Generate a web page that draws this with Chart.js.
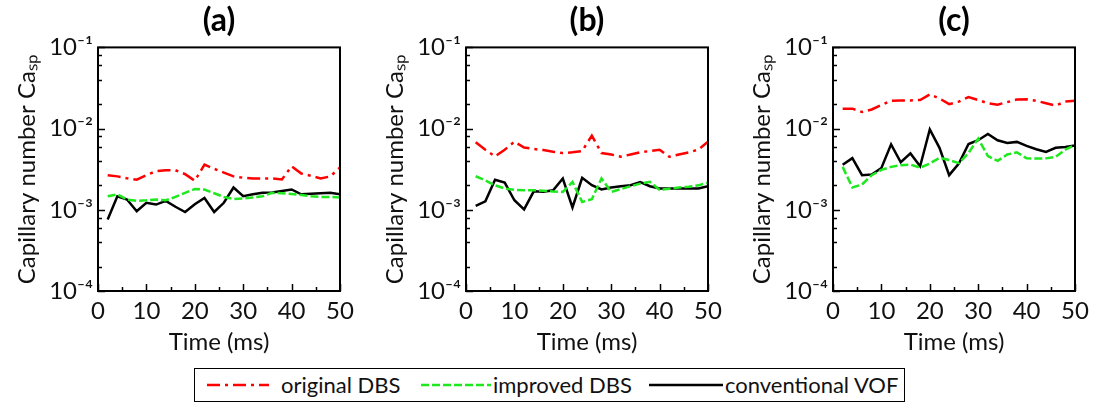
<!DOCTYPE html>
<html>
<head>
<meta charset="utf-8">
<script src="https://cdn.jsdelivr.net/npm/chart.js@4.4.1/dist/chart.umd.min.js"></script>
<style>
  body { margin: 0; width: 1095px; height: 407px; background: #fff; position: relative; overflow: hidden; font-family: Lato, "DejaVu Sans", sans-serif; }
  canvas.panel { position: absolute; top: 0; }
  #legend { position: absolute; left: 194px; top: 368px; width: 711px; height: 34px; border: 1.5px solid #000; box-sizing: border-box; font-size: 22px; color: #111; }
  #legend svg, #legend span { position: absolute; }
  #legend svg { top: 11px; }
  #legend span { top: 2px; white-space: nowrap; }
</style>
</head>
<body>
<canvas id="chartA" class="panel" width="360" height="362" style="left:0px"></canvas>
<canvas id="chartB" class="panel" width="360" height="362" style="left:368px"></canvas>
<canvas id="chartC" class="panel" width="360" height="362" style="left:735px"></canvas>

<div id="legend">
  <svg style="left:12px" width="62" height="10"><line x1="0" y1="5" x2="62" y2="5" stroke="#ff0000" stroke-width="2.5" stroke-dasharray="13 5 3 5"/></svg>
  <span style="left:86px">original DBS</span>
  <svg style="left:226px" width="70" height="10"><line x1="0" y1="5" x2="70" y2="5" stroke="#1ee81e" stroke-width="2.5" stroke-dasharray="8 3"/></svg>
  <span style="left:298px">improved DBS</span>
  <svg style="left:454px" width="74" height="10"><line x1="0" y1="5" x2="74" y2="5" stroke="#000" stroke-width="2.5"/></svg>
  <span style="left:530px">conventional VOF</span>
</div>

<script>
// time (ms)
const time = [2, 4, 6, 8, 10, 12, 14, 16, 18, 20, 22, 24, 26, 28, 30, 32, 34, 36, 38, 40, 42, 44, 46, 48, 50];

// (a)
const origA = [2.67e-3, 2.58e-3, 2.45e-3, 2.35e-3, 2.67e-3, 2.99e-3, 3.07e-3, 3.07e-3, 2.75e-3, 2.28e-3, 3.6e-3, 3.2e-3, 2.87e-3, 2.58e-3, 2.48e-3, 2.43e-3, 2.43e-3, 2.43e-3, 2.36e-3, 3.44e-3, 2.8e-3, 2.62e-3, 2.43e-3, 2.58e-3, 3.32e-3];
const impA = [1.47e-3, 1.55e-3, 1.34e-3, 1.29e-3, 1.31e-3, 1.34e-3, 1.31e-3, 1.44e-3, 1.62e-3, 1.8e-3, 1.78e-3, 1.6e-3, 1.44e-3, 1.36e-3, 1.38e-3, 1.42e-3, 1.47e-3, 1.62e-3, 1.6e-3, 1.57e-3, 1.52e-3, 1.47e-3, 1.44e-3, 1.44e-3, 1.42e-3];
const vofA = [7.6e-4, 1.47e-3, 1.34e-3, 9.6e-4, 1.22e-3, 1.16e-3, 1.29e-3, 1.09e-3, 9.4e-4, 1.17e-3, 1.4e-3, 9.4e-4, 1.22e-3, 1.88e-3, 1.47e-3, 1.55e-3, 1.62e-3, 1.63e-3, 1.7e-3, 1.78e-3, 1.55e-3, 1.58e-3, 1.6e-3, 1.62e-3, 1.55e-3];

// (b)
const origB = [6.8e-3, 5.5e-3, 4.55e-3, 5.5e-3, 6.9e-3, 5.85e-3, 5.6e-3, 5.45e-3, 5.2e-3, 5.0e-3, 5.1e-3, 5.3e-3, 8.2e-3, 5.0e-3, 4.8e-3, 4.5e-3, 4.8e-3, 5.1e-3, 5.3e-3, 5.5e-3, 4.5e-3, 4.8e-3, 5.1e-3, 5.5e-3, 6.9e-3];
const impB = [2.59e-3, 2.3e-3, 2.0e-3, 1.83e-3, 1.76e-3, 1.74e-3, 1.74e-3, 1.72e-3, 1.68e-3, 1.66e-3, 2.2e-3, 1.25e-3, 1.35e-3, 2.43e-3, 1.66e-3, 1.8e-3, 1.95e-3, 2.1e-3, 2.21e-3, 1.76e-3, 1.82e-3, 1.88e-3, 1.92e-3, 2.0e-3, 2.15e-3];
const vofB = [1.12e-3, 1.27e-3, 2.34e-3, 2.16e-3, 1.31e-3, 1.01e-3, 1.69e-3, 1.67e-3, 1.74e-3, 2.43e-3, 1.07e-3, 2.48e-3, 2.01e-3, 1.78e-3, 1.88e-3, 1.95e-3, 2.01e-3, 2.2e-3, 1.95e-3, 1.83e-3, 1.83e-3, 1.83e-3, 1.83e-3, 1.83e-3, 1.95e-3];

// (c)
const origC = [1.76e-2, 1.76e-2, 1.6e-2, 1.72e-2, 1.95e-2, 2.2e-2, 2.22e-2, 2.22e-2, 2.25e-2, 2.64e-2, 2.35e-2, 2.0e-2, 2.15e-2, 2.45e-2, 2.25e-2, 2.05e-2, 1.97e-2, 2.12e-2, 2.28e-2, 2.3e-2, 2.2e-2, 2.05e-2, 1.92e-2, 2.15e-2, 2.2e-2];
const impC = [3.38e-3, 1.88e-3, 2.05e-3, 2.67e-3, 3.1e-3, 3.38e-3, 3.54e-3, 3.6e-3, 3.3e-3, 3.72e-3, 4.36e-3, 4.1e-3, 3.75e-3, 5.0e-3, 7.54e-3, 4.6e-3, 4.0e-3, 4.8e-3, 5.1e-3, 4.3e-3, 4.28e-3, 4.3e-3, 4.5e-3, 5.5e-3, 6.3e-3];
const vofC = [3.58e-3, 4.33e-3, 2.67e-3, 2.72e-3, 3.28e-3, 6.4e-3, 3.85e-3, 4.95e-3, 3.44e-3, 9.75e-3, 5.8e-3, 2.67e-3, 3.7e-3, 6.45e-3, 7.2e-3, 8.6e-3, 7.18e-3, 6.65e-3, 6.86e-3, 6.12e-3, 5.57e-3, 5.16e-3, 5.8e-3, 5.95e-3, 6.2e-3];

// axis ticks
const yTicks = [1e-4, 2e-4, 4e-4, 6e-4, 8e-4, 1e-3, 2e-3, 4e-3, 6e-3, 8e-3, 1e-2, 2e-2, 4e-2, 6e-2, 8e-2, 1e-1];
const yDecadeLabels = { '-4': '10⁻⁴', '-3': '10⁻³', '-2': '10⁻²', '-1': '10⁻¹' };

const FONT = 'Lato';
const isDecade = v => Math.abs(Math.log10(v) - Math.round(Math.log10(v))) < 1e-6;

// frame round the plot and inward tick marks
const frameTicks = {
  id: 'frameTicks',
  afterDatasetsDraw(chart) {
    const { ctx, chartArea: a, scales: { x, y } } = chart;
    ctx.save();
    ctx.strokeStyle = '#000';
    ctx.lineWidth = 1.5;
    ctx.beginPath();
    x.ticks.forEach(t => {
      const px = Math.round(x.getPixelForValue(t.value)) + 0.5;
      const len = t.value % 10 === 0 ? 7 : 4;
      ctx.moveTo(px, a.bottom);
      ctx.lineTo(px, a.bottom - len);
    });
    y.ticks.forEach(t => {
      const py = Math.round(y.getPixelForValue(t.value)) + 0.5;
      const len = isDecade(t.value) ? 7 : 4;
      ctx.moveTo(a.left, py);
      ctx.lineTo(a.left + len, py);
    });
    ctx.stroke();
    ctx.lineWidth = 2;
    ctx.strokeRect(a.left, a.top, a.right - a.left, a.bottom - a.top);
    ctx.restore();
  }
};

const toPts = arr => time.map((t, i) => ({ x: t, y: arr[i] }));

function makeChart(id, letter, orig, imp, vof) {
  const ctx = document.getElementById(id).getContext('2d');
  return new Chart(ctx, {
    type: 'line',
    data: {
      datasets: [
        { label: 'original DBS', data: toPts(orig), borderColor: '#ff0000', borderWidth: 2.5, borderDash: [13, 5, 3, 5], pointRadius: 0, tension: 0 },
        { label: 'improved DBS', data: toPts(imp), borderColor: '#1ee81e', borderWidth: 2.5, borderDash: [8, 3], pointRadius: 0, tension: 0 },
        { label: 'conventional VOF', data: toPts(vof), borderColor: '#000000', borderWidth: 2.5, pointRadius: 0, tension: 0 }
      ]
    },
    options: {
      responsive: false,
      animation: false,
      layout: { padding: { left: 0, right: 20, top: 0, bottom: 0 } },
      plugins: {
        legend: { display: false },
        tooltip: { enabled: false },
        title: {
          display: true,
          text: '(' + letter + ')',
          fullSize: false,
          color: '#000',
          font: { family: FONT, size: 32, weight: 'bold' },
          padding: { top: 1, bottom: 8 }
        }
      },
      scales: {
        x: {
          type: 'linear',
          min: 0,
          max: 50,
          grid: { display: false, drawTicks: false },
          border: { display: false },
          afterFit: s => { s.height = 71; },
          ticks: {
            stepSize: 5,
            autoSkip: false,
            maxRotation: 0,
            padding: 6,
            color: '#111',
            font: { family: FONT, size: 24 },
            callback: v => (v % 10 === 0 ? v : '')
          },
          title: { display: true, text: 'Time (ms)', color: '#111', font: { family: FONT, size: 24 }, padding: { top: 0, bottom: 5 } }
        },
        y: {
          type: 'logarithmic',
          min: 1e-4,
          max: 1e-1,
          grid: { display: false, drawTicks: false },
          border: { display: false },
          afterFit: s => { s.width = 98; },
          afterBuildTicks: s => { s.ticks = yTicks.map(v => ({ value: v, major: isDecade(v) })); },
          ticks: {
            autoSkip: false,
            padding: 5,
            color: '#111',
            font: { family: FONT, size: 24 },
            callback: v => (isDecade(v) ? yDecadeLabels[Math.round(Math.log10(v))] : '')
          },
          title: { display: true, text: 'Capillary number Caₛₚ', color: '#111', font: { family: FONT, size: 24 }, padding: { top: 13, bottom: 0 } }
        }
      }
    },
    plugins: [frameTicks]
  });
}

makeChart('chartA', 'a', origA, impA, vofA);
makeChart('chartB', 'b', origB, impB, vofB);
makeChart('chartC', 'c', origC, impC, vofC);
</script>
</body>
</html>
